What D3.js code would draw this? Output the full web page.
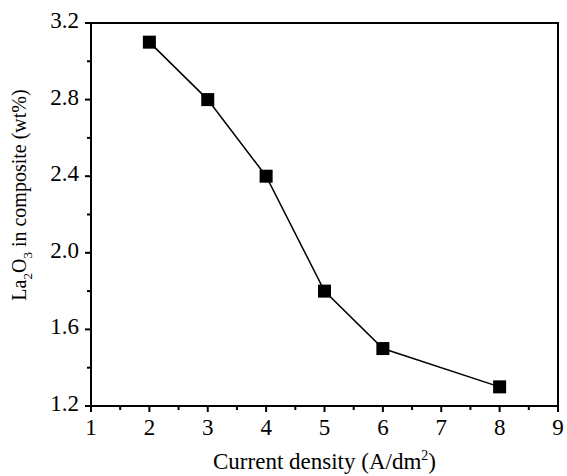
<!DOCTYPE html>
<meta charset="utf-8">
<script src="https://d3js.org/d3.v7.min.js"></script>
<style>
  body { margin: 0; background: #fff; }
  text { font-family: "Liberation Serif", "Times New Roman", serif; fill: #000; }
</style>
<body>
<div id="chart"></div>
<script>

// data
var currentDensity = [2, 3, 4, 5, 6, 8];
var la2o3Content = [3.1, 2.8, 2.4, 1.8, 1.5, 1.3];
var xTicks = [1, 2, 3, 4, 5, 6, 7, 8, 9];
var yTicks = [1.2, 1.6, 2.0, 2.4, 2.8, 3.2];

var W = 567, H = 476;
var margin = {top: 23, right: 9, bottom: 70, left: 91},
    width = W - margin.left - margin.right,
    height = H - margin.top - margin.bottom;

var svg = d3.select("#chart")
  .append("svg")
    .attr("width", W)
    .attr("height", H)
  .append("g")
    .attr("transform", "translate(" + margin.left + "," + margin.top + ")");

var x = d3.scaleLinear().domain([1, 9]).range([0, width]);
var y = d3.scaleLinear().domain([1.2, 3.2]).range([height, 0]);

// minor ticks
var xMinor = d3.range(1.5, 9, 1);
var yMinor = d3.range(1.4, 3.2, 0.4);

svg.append("g")
  .attr("transform", "translate(0," + height + ")")
  .selectAll("line")
  .data(xMinor)
  .enter().append("line")
    .attr("x1", function(d) { return x(d); })
    .attr("x2", function(d) { return x(d); })
    .attr("y1", 0).attr("y2", 4)
    .attr("stroke", "#000").attr("stroke-width", 2);

svg.append("g")
  .selectAll("line")
  .data(yMinor)
  .enter().append("line")
    .attr("y1", function(d) { return y(d); })
    .attr("y2", function(d) { return y(d); })
    .attr("x1", 0).attr("x2", -4)
    .attr("stroke", "#000").attr("stroke-width", 2);

// axes
var xAxis = svg.append("g")
  .attr("transform", "translate(0," + height + ")")
  .call(d3.axisBottom(x).tickValues(xTicks).tickFormat(d3.format("d")).tickSize(6).tickSizeOuter(0).offset(0));

var yAxis = svg.append("g")
  .call(d3.axisLeft(y).tickValues(yTicks).tickFormat(d3.format(".1f")).tickSize(6).tickSizeOuter(0).offset(0));

[xAxis, yAxis].forEach(function(a) {
  a.select(".domain").attr("stroke", "#000").attr("stroke-width", 2);
  a.selectAll(".tick line").attr("stroke", "#000").attr("stroke-width", 2);
  a.selectAll(".tick text")
    .attr("fill", "#000")
    .style("font-family", "'Liberation Serif', 'Times New Roman', serif")
    .style("font-size", "23px");
});
xAxis.selectAll(".tick text").attr("y", 12).attr("dy", "0.75em");
yAxis.selectAll(".tick text").attr("x", -12).attr("dy", "0.22em");

// frame top and right
svg.append("line")
  .attr("x1", 0).attr("x2", width).attr("y1", 0).attr("y2", 0)
  .attr("stroke", "#000").attr("stroke-width", 2);
svg.append("line")
  .attr("x1", width).attr("x2", width).attr("y1", -1).attr("y2", height)
  .attr("stroke", "#000").attr("stroke-width", 2);

// line and markers
var pts = currentDensity.map(function(d, i) { return [d, la2o3Content[i]]; });

svg.append("path")
  .datum(pts)
  .attr("fill", "none")
  .attr("stroke", "#000")
  .attr("stroke-width", 1.5)
  .attr("d", d3.line().x(function(d) { return x(d[0]); }).y(function(d) { return y(d[1]); }));

svg.append("g")
  .selectAll("rect")
  .data(pts)
  .enter().append("rect")
    .attr("x", function(d) { return x(d[0]) - 6.5; })
    .attr("y", function(d) { return y(d[1]) - 6.5; })
    .attr("width", 13)
    .attr("height", 13)
    .attr("fill", "#000");

// axis titles
var xt = svg.append("text")
  .attr("x", width / 2)
  .attr("y", height + 63)
  .attr("text-anchor", "middle")
  .style("font-size", "23px");
xt.append("tspan").text("Current density (A/dm");
xt.append("tspan").attr("dy", -9).style("font-size", "14px").text("2");
xt.append("tspan").attr("dy", 9).text(")");

var yt = svg.append("text")
  .attr("transform", "translate(" + (-65) + "," + 172 + ") rotate(-90)")
  .attr("text-anchor", "middle")
  .style("font-size", "20px");
yt.append("tspan").text("La");
yt.append("tspan").attr("dy", 6).style("font-size", "13px").text("2");
yt.append("tspan").attr("dy", -6).text("O");
yt.append("tspan").attr("dy", 6).style("font-size", "13px").text("3");
yt.append("tspan").attr("dy", -6).text(" in composite (wt%)");

</script>
</body>
